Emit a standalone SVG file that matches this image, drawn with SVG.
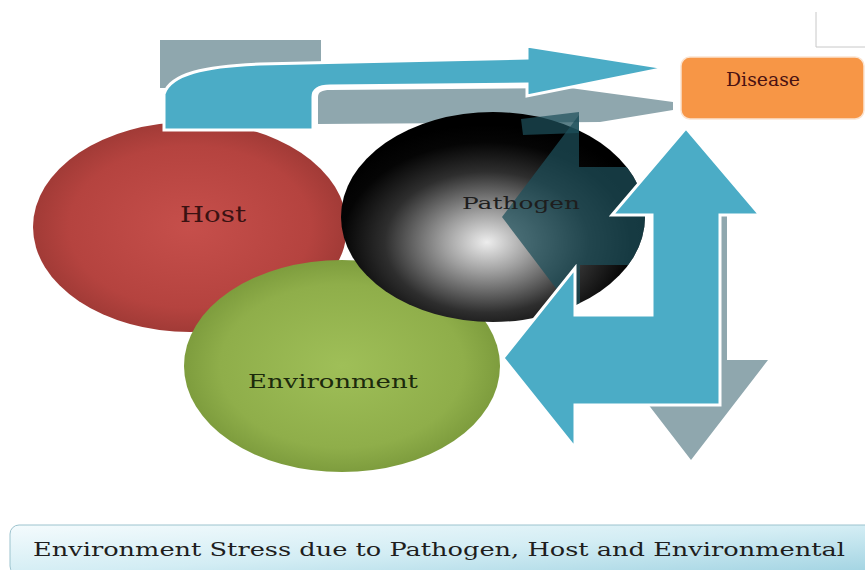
<svg xmlns="http://www.w3.org/2000/svg" width="865" height="570" viewBox="0 0 865 570">
  <defs>
    <radialGradient id="gHost" cx="0.5" cy="0.5" r="0.55">
      <stop offset="0" stop-color="#c64f4b"/>
      <stop offset="0.7" stop-color="#b5433f"/>
      <stop offset="1" stop-color="#993733"/>
    </radialGradient>
    <radialGradient id="gEnv" cx="0.5" cy="0.5" r="0.55">
      <stop offset="0" stop-color="#9fbf58"/>
      <stop offset="0.7" stop-color="#8fae4a"/>
      <stop offset="1" stop-color="#769538"/>
    </radialGradient>
    <radialGradient id="gPath" cx="0.48" cy="0.62" r="0.56">
      <stop offset="0" stop-color="#ededed"/>
      <stop offset="0.25" stop-color="#a0a0a0"/>
      <stop offset="0.6" stop-color="#2e2e2e"/>
      <stop offset="0.85" stop-color="#050505"/>
      <stop offset="1" stop-color="#000"/>
    </radialGradient>
    <linearGradient id="gCap" x1="0" y1="0" x2="1" y2="1">
      <stop offset="0" stop-color="#f4fbfd"/>
      <stop offset="0.5" stop-color="#d3edf4"/>
      <stop offset="1" stop-color="#9fd2e1"/>
    </linearGradient>
    <clipPath id="clipPath">
      <ellipse cx="493" cy="217" rx="152" ry="105"/>
      <rect x="520" y="100" width="62" height="40"/>
    </clipPath>
    <style>
      .lbl { font-family: "DejaVu Serif", "Liberation Serif", serif; }
      .blue { fill: #4bacc6; stroke: #ffffff; stroke-width: 3; stroke-linejoin: miter; }
      .grey { fill: #8fa7ae; }
      .shade { fill: #1d4f5a; opacity: 0.72; }
    </style>
  </defs>

  <!-- thin corner lines, top right -->
  <path d="M816,12 V47 H865" fill="none" stroke="#c8c8c8" stroke-width="1"/>

  <g id="connectors">
    <!-- grey back copies of the arrows -->
    <rect class="grey" x="160" y="40" width="161" height="48"/>
    <path class="grey" d="M318,124 L318,97 C318,92 322,90 330,90 L570,88 L673,102 L673,110 L600,122 Z"/>
    <path class="grey" d="M655,215 H727 V360 H768 L691,460 L614,360 H655 Z"/>
  </g>

  <g id="host">
    <ellipse cx="190" cy="227" rx="157" ry="105" fill="url(#gHost)"/>
    <text class="lbl" x="213" y="222" font-size="22" fill="#3a1212" text-anchor="middle" textLength="66" lengthAdjust="spacingAndGlyphs">Host</text>
  </g>

  <g id="environment">
    <ellipse cx="342" cy="366" rx="158" ry="106" fill="url(#gEnv)"/>
    <text class="lbl" x="333" y="388" font-size="18" fill="#1c2a0c" text-anchor="middle" textLength="170" lengthAdjust="spacingAndGlyphs">Environment</text>
  </g>

  <g id="pathogen">
    <ellipse cx="493" cy="217" rx="152" ry="105" fill="url(#gPath)"/>
    <!-- dark translucent arrow shadow over the pathogen -->
    <g clip-path="url(#clipPath)">
      <path class="shade" d="M502,217 L579,115 V167 H650 V265 H580 V320 Z"/>
      <path class="shade" d="M521,119 L579,112 V133 L523,135 Z"/>
    </g>
    <text class="lbl" x="521" y="209" font-size="17" fill="#1e1e1e" text-anchor="middle" textLength="118" lengthAdjust="spacingAndGlyphs">Pathogen</text>
  </g>

  <g id="arrows">
    <!-- curved arrow to Disease -->
    <path class="blue" d="M164,130 V94 C170,74 205,66 260,64 L527,58 V46 L666,68 L527,96 V84 L330,86 C318,86 313,90 313,97 V130 Z"/>
    <!-- up / left arrow -->
    <path class="blue" d="M686,128 L760,215 H720 V405 H575 V448 L503,358 L575,268 V315 H652 V215 H612 Z"/>
  </g>

  <g id="disease">
    <rect x="681" y="57" width="183" height="62" rx="9" fill="#f79646" stroke="#fbe3cf" stroke-width="1.5"/>
    <text class="lbl" x="763" y="86" font-size="18" fill="#4a1212" text-anchor="middle" textLength="74" lengthAdjust="spacingAndGlyphs">Disease</text>
  </g>

  <g id="caption">
    <rect x="10" y="525" width="870" height="50" rx="9" fill="url(#gCap)" stroke="#9cc3ce" stroke-width="1"/>
    <text class="lbl" x="439" y="556" font-size="19" fill="#1e1e1e" text-anchor="middle" textLength="812" lengthAdjust="spacingAndGlyphs">Environment Stress due to Pathogen, Host and Environmental</text>
  </g>
</svg>
